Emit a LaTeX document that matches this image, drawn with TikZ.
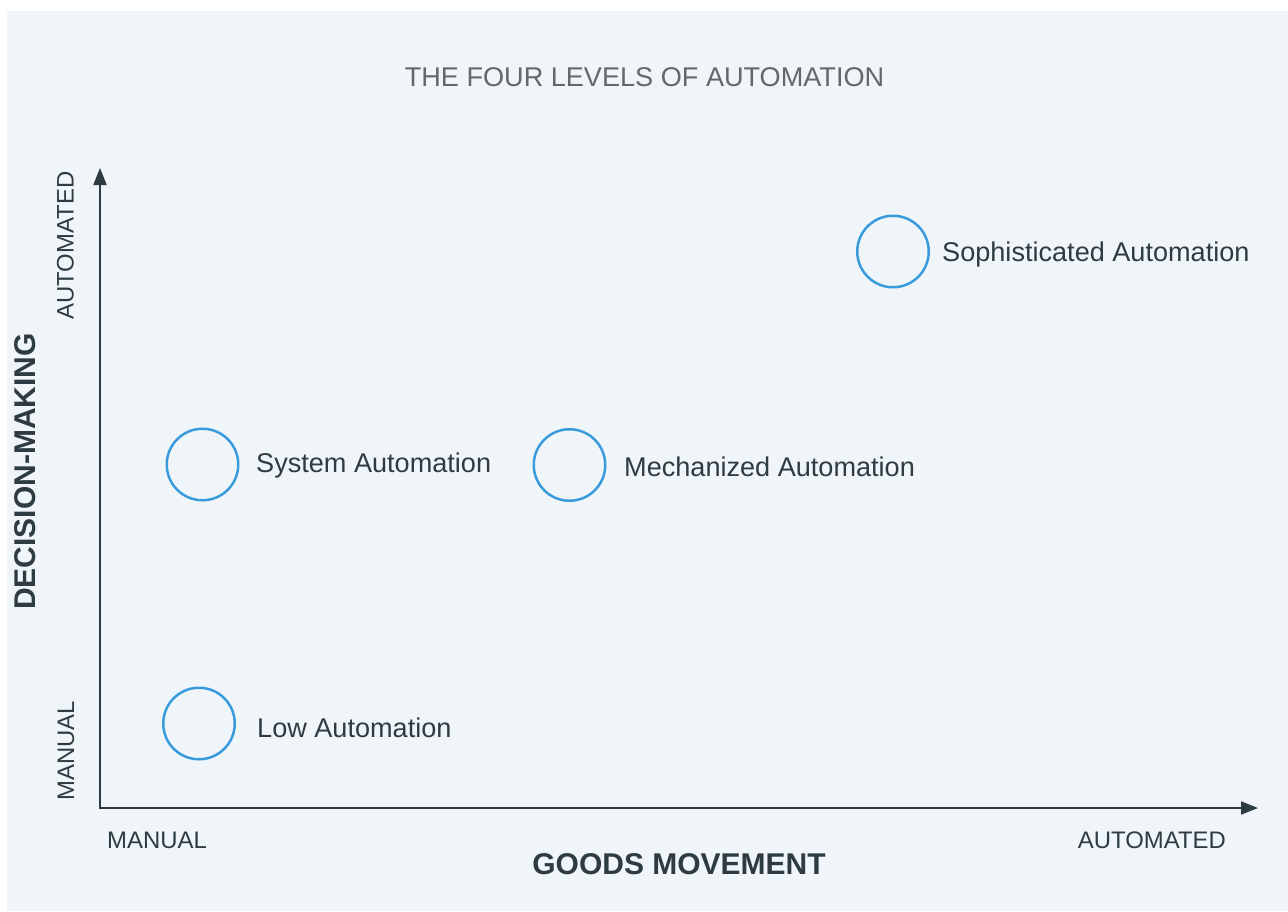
\documentclass[tikz,border=0pt]{standalone}
\usepackage{fontspec}
\setmainfont{Liberation Sans}
\usetikzlibrary{arrows.meta}
\definecolor{bg}{HTML}{F0F5FA}
\definecolor{ink}{HTML}{2E3B43}
\definecolor{ring}{HTML}{3A9BDC}
\definecolor{titlegray}{HTML}{64676B}
\begin{document}
\begin{tikzpicture}[x=1pt,y=-1pt,
  axis/.style={draw=ink, line width=2pt, -{Triangle[length=17pt,width=13pt]}},
  level/.style={circle, draw=ring, line width=2.5pt, minimum size=71.5pt, inner sep=0pt},
  lab/.style={anchor=base west, inner sep=0pt, text=ink, font=\fontsize{27.1}{30}\selectfont},
  axlab/.style={inner sep=0pt, text=ink, font=\fontsize{23.9}{28}\selectfont},
  axtitle/.style={inner sep=0pt, text=ink, font=\bfseries\fontsize{30}{34}\selectfont},
  ttl/.style={inner sep=0pt, text=titlegray, font=\fontsize{27.1}{30}\selectfont}]
\useasboundingbox (0,0) rectangle (1288,911);
\fill[white] (0,0) rectangle (1288,911);
\fill[bg] (7,11) rectangle (1288,911);
% title
\node[ttl, anchor=base] (title) at (644.5,86) {THE FOUR LEVELS OF AUTOMATION};
% axes
\coordinate (o) at (100,808);
\coordinate (ytip) at (100,168);
\coordinate (xtip) at (1258,808);
\draw[axis] ([yshift=-1pt]o) -- (ytip);
\draw[axis] ([xshift=-1pt]o) -- (xtip);
% levels
\node[level] (soph) at (893,251.5) {};
\node[level] (sys) at (202.5,464.5) {};
\node[level] (mech) at (569.5,465) {};
\node[level] (low) at (199,723.5) {};
\node[lab] (sophlab) at (942,261) {Sophisticated Automation};
\node[lab] (syslab) at (256,472) {System Automation};
\node[lab] (mechlab) at (624,476) {Mechanized Automation};
\node[lab] (lowlab) at (257,737) {Low Automation};
% axis labels
\node[axlab, anchor=base west] (xman) at (107,848) {MANUAL};
\node[axlab, anchor=base east] (xaut) at (1226,848) {AUTOMATED};
\node[axtitle, anchor=base] (xtitle) at (679,874) {GOODS MOVEMENT};
\node[axtitle, rotate=90] (ytitle) at (25,471.5) {DECISION-MAKING};
\node[axlab, rotate=90] (yaut) at (65.5,245.5) {AUTOMATED};
\node[axlab, rotate=90] (yman) at (66,751) {MANUAL};
\end{tikzpicture}
\end{document}
